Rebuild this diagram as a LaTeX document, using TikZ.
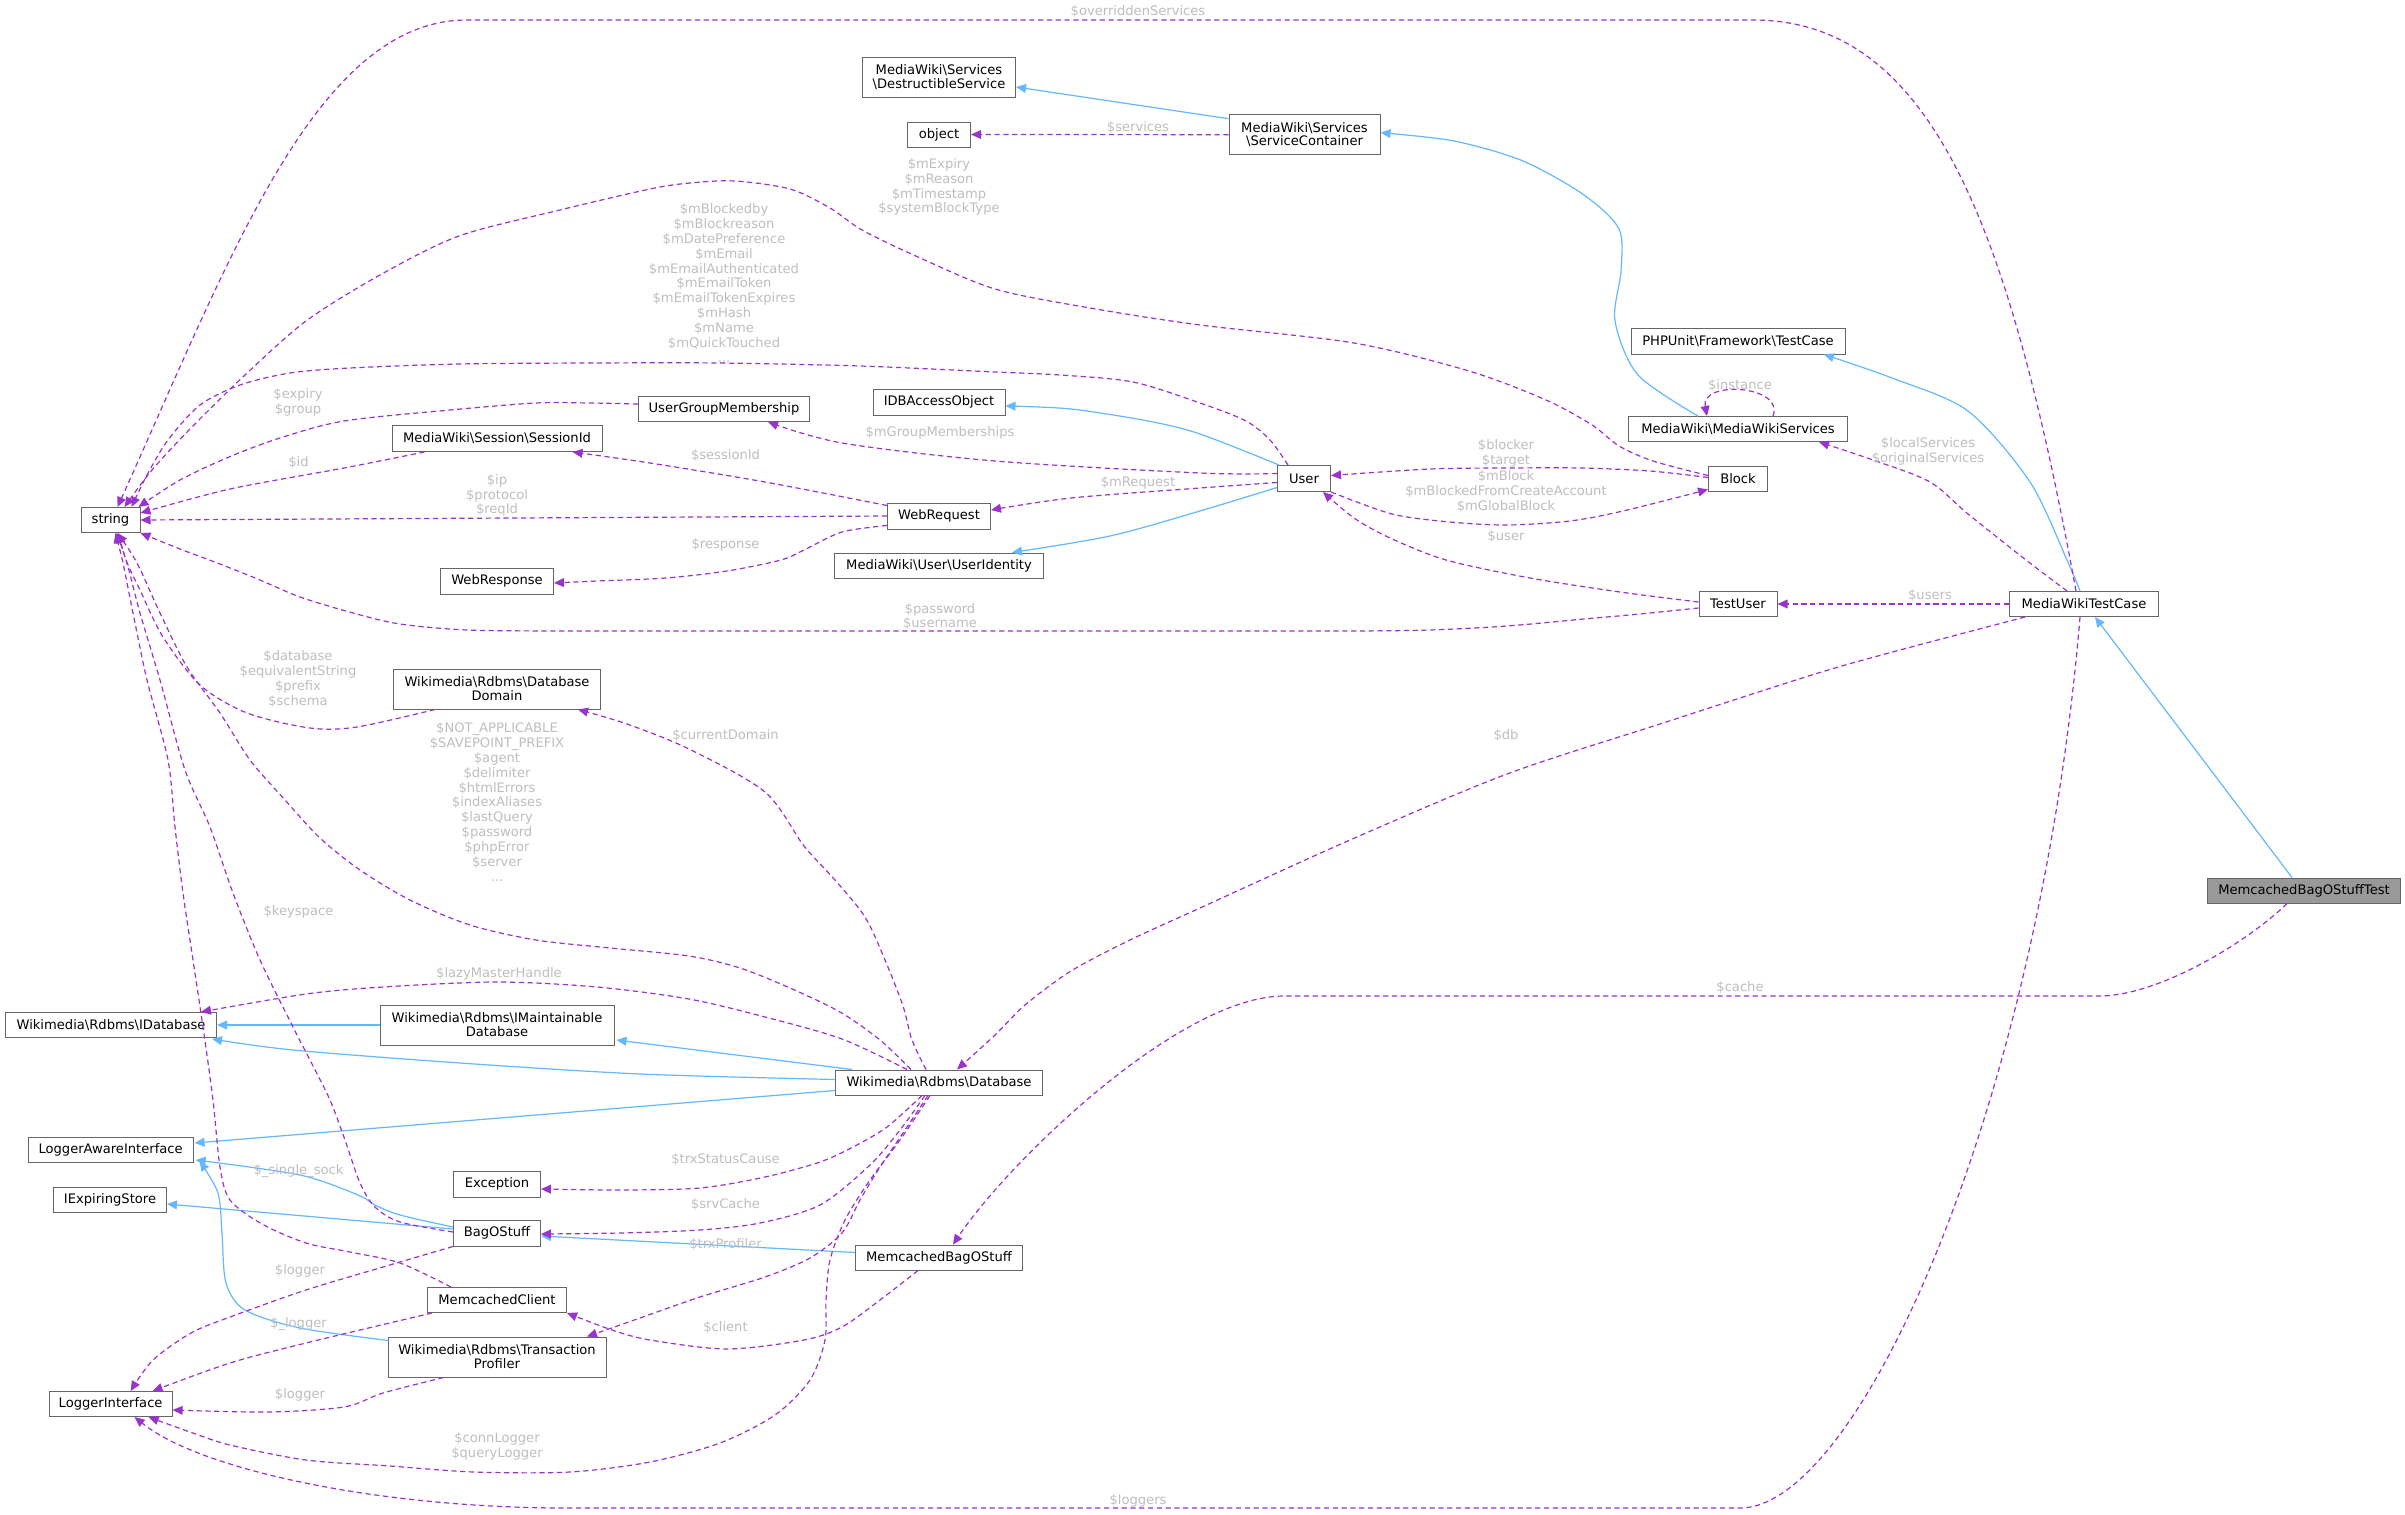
\documentclass[tikz,border=0pt]{standalone}
\usepackage{fontspec}
\setmainfont{DejaVu Sans}
\usetikzlibrary{arrows.meta,calc}
\definecolor{usepurple}{HTML}{9A32CD}
\definecolor{inhblue}{HTML}{63B8FF}
\definecolor{lblgray}{HTML}{BEBEBE}
\definecolor{nodegray}{HTML}{666666}
\definecolor{hlgray}{HTML}{999999}
\newcommand\bsl{\textbackslash}
\newcommand\nfnt{\fontsize{6.55}{6.9}\selectfont}
\newcommand\lfnt{\fontsize{6.55}{7.42}\selectfont}
\begin{document}
\begin{tikzpicture}[x=0.5pt,y=-0.5pt,
  cls/.style={draw=nodegray, fill=white, line width=0.5pt, inner sep=0pt, align=center, font=\nfnt},
  bw/.style={minimum width=#1*0.5pt},
  bh/.style={minimum height=#1*0.5pt},
  inh/.style={draw=inhblue, line width=0.6pt, -{Triangle[length=5pt,width=4.4pt]}},
  use/.style={draw=usepurple, line width=0.6pt, dash pattern=on 2.6pt off 1.8pt, -{Triangle[length=5pt,width=4.4pt]}},
  lbl/.style={text=lblgray, font=\lfnt, align=center, inner sep=0pt}]
\fill[white] (0,0) rectangle (2405,1515);
\useasboundingbox (0,0) rectangle (2405,1515);
% nodes
\node[cls,bw=153,bh=40] (destr) at (939,77) {MediaWiki\bsl Services\\\bsl DestructibleService};
\node[cls,bw=63,bh=25] (object) at (939,134.5) {object};
\node[cls,bw=151,bh=40] (svc) at (1304.5,134.7) {MediaWiki\bsl Services\\\bsl ServiceContainer};
\node[cls,bw=214,bh=26] (phpunit) at (1738,341) {PHPUnit\bsl Framework\bsl TestCase};
\node[cls,bw=219,bh=25] (mws) at (1738,429) {MediaWiki\bsl MediaWikiServices};
\node[cls,bw=171,bh=25] (ugm) at (724,409) {UserGroupMembership};
\node[cls,bw=132,bh=26] (idbao) at (939,402) {IDBAccessObject};
\node[cls,bw=210,bh=26] (sessid) at (497,438.5) {MediaWiki\bsl Session\bsl SessionId};
\node[cls,bw=53,bh=26] (user) at (1304,478.5) {User};
\node[cls,bw=59,bh=25] (block) at (1738,478.5) {Block};
\node[cls,bw=59,bh=25] (string) at (110.5,520) {string};
\node[cls,bw=103,bh=26] (webreq) at (939,516) {WebRequest};
\node[cls,bw=209,bh=25] (uid) at (939,565.5) {MediaWiki\bsl User\bsl UserIdentity};
\node[cls,bw=113,bh=26] (webresp) at (497,581) {WebResponse};
\node[cls,bw=78,bh=25] (testuser) at (1738,604) {TestUser};
\node[cls,bw=149,bh=25] (mwtc) at (2084,604) {MediaWikiTestCase};
\node[cls,bw=207,bh=40] (dbdomain) at (497,689) {Wikimedia\bsl Rdbms\bsl Database\\Domain};
\node[cls,bw=193,bh=25,fill=hlgray] (mbost) at (2304,890.5) {MemcachedBagOStuffTest};
\node[cls,bw=211,bh=25] (idb) at (111,1025) {Wikimedia\bsl Rdbms\bsl IDatabase};
\node[cls,bw=234,bh=40] (imaint) at (497,1025) {Wikimedia\bsl Rdbms\bsl IMaintainable\\Database};
\node[cls,bw=207,bh=25] (db) at (939,1082.5) {Wikimedia\bsl Rdbms\bsl Database};
\node[cls,bw=165,bh=25] (lai) at (110.6,1150) {LoggerAwareInterface};
\node[cls,bw=87,bh=26] (exc) at (497,1184) {Exception};
\node[cls,bw=113,bh=25] (ies) at (110,1200) {IExpiringStore};
\node[cls,bw=87,bh=26] (bag) at (497,1233) {BagOStuff};
\node[cls,bw=167,bh=25] (mbo) at (939,1257.5) {MemcachedBagOStuff};
\node[cls,bw=139,bh=25] (mcc) at (497,1300) {MemcachedClient};
\node[cls,bw=218,bh=40] (tp) at (497,1357) {Wikimedia\bsl Rdbms\bsl Transaction\\Profiler};
\node[cls,bw=123,bh=25] (li) at (110.6,1404) {LoggerInterface};
% inheritance
\draw[inh] ($(svc.west)+(0,-16)$) -- ($(destr.east)+(0,10)$);
\draw[inh] plot[smooth] coordinates {($(mws.north)+(-40,0)$) (1638,375) (1615,321) (1621,271) (1619,229) (1584,195) (1523,161) (1454,141) ($(svc.east)+(0,-2)$)};
\draw[inh] plot[smooth] coordinates {($(mwtc.north)+(-4,0)$) (2067,560) (2030,482) (1968,411) (1892,378) ($(phpunit.south)+(86,0)$)};
\draw[inh] ($(mbost.north)+(-12,0)$) -- ($(mwtc.south)+(11,0)$);
\draw[inh] plot[smooth] coordinates {($(user.north west)+(2,0)$) (1200,434) (1148,421) (1071,409) ($(idbao.east)+(0,4)$)};
\draw[inh] plot[smooth] coordinates {($(user.west)+(0,9)$) (1200,511) (1110,536) ($(uid.north)+(73,0)$)};
\draw[inh] (imaint.west) -- (idb.east);
\draw[inh] plot[smooth] coordinates {($(db.west)+(0,-3)$) (640,1074) (460,1063) (293,1050) ($(idb.east)+(-5,14)$)};
\draw[inh] ($(db.north west)+(17,0)$) -- ($(imaint.east)+(2,15)$);
\draw[inh] ($(db.west)+(0,8)$) -- ($(lai.east)+(1,-7)$);
\draw[inh] plot[smooth] coordinates {($(bag.west)+(0,-6)$) (400,1215) (375,1205) (358,1195) (300,1175) ($(lai.east)+(2,10)$)};
\draw[inh] ($(bag.west)+(0,-4)$) -- ($(ies.east)+(0,4)$);
\draw[inh] plot[smooth] coordinates {($(tp.north west)+(1,4)$) (300,1328) (245,1310) (226,1283) (222,1233) (218,1193) ($(lai.south east)+(6,-2)$)};
\draw[inh] ($(mbo.west)+(0,-5)$) -- ($(bag.east)+(0,3)$);
% usage
\draw[use] ($(mwtc.north)+(-8,0)$) .. controls (2010,230) and (1933,20) .. (1753,20) -- (467,20) .. controls (317,20) and (231,256) .. ($(string.north)+(7,0)$);
\draw[use] (svc.west) -- (object.east);
\draw[use] plot[smooth] coordinates {($(block.west)+(0,-3)$) (1653,461) (1619,446) (1592,425) (1546,400) (1469,371) (1354,343) (1200,325) (1090,308) (995,289) (918,257) (862,230) (830,208) (790,189) (735,181) (690,183) (650,189) (560,210) (459,236) (380,275) (306,321) (245,375) (191,428) (152,470) ($(string.north)+(14,0)$)};
\draw[use] plot[smooth] coordinates {($(user.north)+(-16,0)$) (1270,440) (1246,421) (1200,403) (1133,382) (1060,375) (995,372) (860,366) (719,363) (590,363) (459,364) (350,368) (290,373) (240,385) (200,405) (168,440) (147,475) ($(string.north)+(21,0)$)};
\draw[use] plot[smooth] coordinates {($(ugm.west)+(0,-5)$) (590,403) (536,403) (450,410) (344,421) (280,438) (229,457) (180,480) ($(string.north east)+(-2,0)$)};
\draw[use] plot[smooth] coordinates {($(sessid.south west)+(33,0)$) (344,468) (230,489) ($(string.east)+(0,-7)$)};
\draw[use] (webreq.west) -- (string.east);
\draw[use] plot[smooth] coordinates {($(webreq.north west)+(0,3)$) (765,482) (650,463) ($(sessid.south east)+(-30,0)$)};
\draw[use] plot[smooth] coordinates {($(user.west)+(0,-5)$) (1200,473) (995,461) (842,443) ($(ugm.south)+(44,0)$)};
\draw[use] plot[smooth] coordinates {($(user.west)+(0,4)$) (1200,488) (1071,498) ($(webreq.east)+(0,-6)$)};
\draw[use] plot[smooth] coordinates {($(webreq.south west)+(0,-4)$) (842,532) (804,550) (781,560) (727,571) (666,578) (597,581) ($(webresp.east)+(0,2)$)};
\draw[use] plot[smooth] coordinates {($(block.west)+(0,-1)$) (1650,471) (1580,468) (1507,468) (1430,469) ($(user.east)+(0,-3)$)};
\draw[use] plot[smooth] coordinates {(user.south east) (1392,514) (1450,522) (1507,525) (1570,521) (1623,511) ($(block.south west)+(0,-2)$)};
\draw[use] plot[smooth] coordinates {($(testuser.west)+(0,-2)$) (1620,592) (1530,578) (1446,560) (1390,538) (1354,518) ($(user.south)+(19,0)$)};
\draw[use] plot[smooth] coordinates {($(testuser.west)+(0,4)$) (1640,614) (1584,619) (1507,626) (1430,630) (1354,631) (1250,631) (1150,631) (1050,631) (950,631) (850,631) (750,631) (650,631) (560,631) (467,630) (400,624) (353,613) (300,597) (260,580) (220,564) (180,549) (string.south east)};
\draw[use] (mwtc.west) -- (testuser.east);
\draw[use] plot[smooth] coordinates {($(mwtc.north)+(-17,0)$) (2026,560) (1968,514) (1930,482) (1876,461) ($(mws.south)+(81,0)$)};
\draw[use] ($(mws.north)+(35,0)$) .. controls (1785,385) and (1700,380) .. ($(mws.north)+(-31,0)$);
\draw[use] plot[smooth] coordinates {($(mwtc.south west)+(16,0)$) (1900,650) (1815,674) (1660,724) (1507,774) (1350,840) (1200,908) (1130,940) (1071,971) (1025,1005) (995,1035) ($(db.north)+(18,0)$)};
\draw[use] ($(mwtc.south)+(-4,0)$) .. controls (2040,1100) and (1860,1508) .. (1740,1508) -- (566,1508) .. controls (380,1508) and (200,1470) .. ($(li.south)+(24,0)$);
\draw[use] ($(mbost.south)+(-17,0)$) .. controls (2250,940) and (2160,996) .. (2099,996) -- (1284,996) .. controls (1180,996) and (1010,1160) .. ($(mbo.north)+(14,0)$);
\draw[use] plot[smooth] coordinates {($(db.north)+(-13,0)$) (912,1040) (903,1006) (885,960) (865,917) (835,880) (804,846) (765,792) (689,749) (627,724) ($(dbdomain.south)+(81,0)$)};
\draw[use] plot[smooth] coordinates {($(dbdomain.south west)+(42,0)$) (357,727) (310,728) (247,713) (200,685) (163,637) (140,590) (126,560) ($(string.south)+(8,0)$)};
\draw[use] plot[smooth] coordinates {($(db.north)+(-28,0)$) (880,1040) (840,1012) (790,988) (740,968) (689,956) (610,948) (536,940) (470,925) (410,900) (360,870) (320,838) (285,800) (250,760) (220,713) (187,667) (160,613) (137,563) ($(string.south)+(7,0)$)};
\draw[use] plot[smooth] coordinates {($(bag.west)+(0,-1)$) (400,1222) (375,1207) (360,1183) (345,1140) (330,1100) (310,1060) (293,1027) (260,960) (233,893) (210,827) (185,770) (160,680) (140,613) (127,563) ($(string.south)+(6,0)$)};
\draw[use] plot[smooth] coordinates {($(mcc.north west)+(24,0)$) (400,1263) (350,1252) (306,1243) (262,1224) (230,1200) (220,1167) (213,1100) (203,1027) (193,960) (183,893) (175,827) (168,760) (147,680) (133,613) (123,563) ($(string.south)+(5,0)$)};
\draw[use] plot[smooth] coordinates {($(db.north)+(-32,0)$) (842,1039) (765,1017) (689,999) (597,987) (497,982) (383,987) (306,994) ($(idb.north east)+(-16,0)$)};
\draw[use] plot[smooth] coordinates {($(db.south)+(-17,0)$) (887,1127) (853,1147) (820,1162) (765,1177) (700,1188) (620,1190) ($(exc.east)+(0,5)$)};
\draw[use] plot[smooth] coordinates {($(db.south)+(-14,0)$) (900,1130) (870,1165) (820,1205) (760,1223) (700,1230) (620,1233) ($(bag.east)+(0,1)$)};
\draw[use] plot[smooth] coordinates {($(db.south)+(-11,0)$) (905,1130) (880,1167) (860,1200) (842,1233) (810,1258) (765,1277) (700,1297) (640,1318) ($(tp.north)+(90,0)$)};
\draw[use] plot[smooth] coordinates {($(db.south)+(-9,0)$) (900,1140) (870,1180) (845,1220) (830,1260) (826,1300) (825,1340) (810,1380) (775,1415) (720,1443) (650,1462) (570,1472) (474,1472) (390,1466) (306,1460) (230,1445) (190,1432) ($(li.south)+(38,0)$)};
\draw[use] plot[smooth] coordinates {($(mbo.south)+(-21,0)$) (880,1300) (842,1327) (804,1340) (727,1349) (650,1340) (612,1330) (mcc.south east)};
\draw[use] plot[smooth] coordinates {(bag.south west) (383,1267) (306,1290) (230,1317) (191,1333) (153,1360) ($(li.north)+(20,0)$)};
\draw[use] plot[smooth] coordinates {($(mcc.south west)+(5,0)$) (306,1343) (230,1363) ($(li.north)+(42,0)$)};
\draw[use] plot[smooth] coordinates {($(tp.south west)+(56,0)$) (383,1393) (344,1407) (268,1412) ($(li.east)+(0,6)$)};
% labels
\node[lbl] (l1) at (1138,11.7) {\$overriddenServices};
\node[lbl] (l2) at (1138,127) {\$services};
\node[lbl] (l3) at (939,187) {\$mExpiry\\\$mReason\\\$mTimestamp\\\$systemBlockType};
\node[lbl] (l4) at (724,283) {\$mBlockedby\\\$mBlockreason\\\$mDatePreference\\\$mEmail\\\$mEmailAuthenticated\\\$mEmailToken\\\$mEmailTokenExpires\\\$mHash\\\$mName\\\$mQuickTouched\\...};
\node[lbl] (l5) at (298,402) {\$expiry\\\$group};
\node[lbl] (l6) at (940,433) {\$mGroupMemberships};
\node[lbl] (l7) at (298.5,462.5) {\$id};
\node[lbl] (l8) at (725.5,455.7) {\$sessionId};
\node[lbl] (l9) at (1138,483) {\$mRequest};
\node[lbl] (l10) at (497,495.5) {\$ip\\\$protocol\\\$reqId};
\node[lbl] (l11) at (725.5,544.6) {\$response};
\node[lbl] (l12) at (1740,385) {\$instance};
\node[lbl] (l13) at (1928,451) {\$localServices\\\$originalServices};
\node[lbl] (l14) at (1506,453) {\$blocker\\\$target};
\node[lbl] (l15) at (1506,491.5) {\$mBlock\\\$mBlockedFromCreateAccount\\\$mGlobalBlock};
\node[lbl] (l16) at (1506,536.7) {\$user};
\node[lbl] (l17) at (1930,595.7) {\$users};
\node[lbl] (l18) at (940,616.5) {\$password\\\$username};
\node[lbl] (l19) at (298,679) {\$database\\\$equivalentString\\\$prefix\\\$schema};
\node[lbl] (l20) at (725.5,735) {\$currentDomain};
\node[lbl] (l21) at (1506,735) {\$db};
\node[lbl] (l22) at (497,802) {\$NOT\_APPLICABLE\\\$SAVEPOINT\_PREFIX\\\$agent\\\$delimiter\\\$htmlErrors\\\$indexAliases\\\$lastQuery\\\$password\\\$phpError\\\$server\\...};
\node[lbl] (l23) at (298.5,911.7) {\$keyspace};
\node[lbl] (l24) at (499,974) {\$lazyMasterHandle};
\node[lbl] (l25) at (1740,987.5) {\$cache};
\node[lbl] (l26) at (725.5,1159) {\$trxStatusCause};
\node[lbl] (l27) at (298.5,1171) {\$\_single\_sock};
\node[lbl] (l28) at (725.5,1204) {\$srvCache};
\node[lbl] (l29) at (725.5,1244) {\$trxProfiler};
\node[lbl] (l30) at (300,1271) {\$logger};
\node[lbl] (l31) at (298.5,1324) {\$\_logger};
\node[lbl] (l32) at (725.5,1327.7) {\$client};
\node[lbl] (l33) at (300,1395) {\$logger};
\node[lbl] (l34) at (497,1446) {\$connLogger\\\$queryLogger};
\node[lbl] (l35) at (1138,1501) {\$loggers};
\end{tikzpicture}
\end{document}
